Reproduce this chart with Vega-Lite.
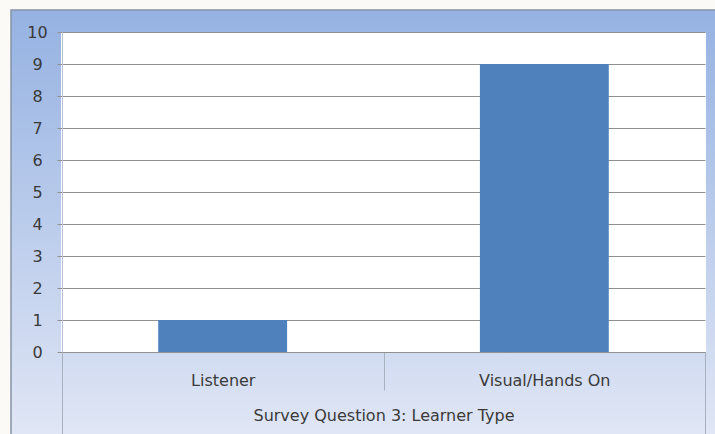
{
  "$schema": "https://vega.github.io/schema/vega-lite/v6.json",
  "width": 705,
  "height": 425,
  "autosize": {"type": "none"},
  "padding": {"left": 11, "top": 10, "right": 0, "bottom": 0},
  "background": "#fbfaf7",
  "config": {
    "font": "DejaVu Sans",
    "view": {
      "fill": {
        "gradient": "linear",
        "x1": 0, "y1": 0, "x2": 0, "y2": 1,
        "stops": [
          {"offset": 0, "color": "#95b2e2"},
          {"offset": 1, "color": "#e0e6f5"}
        ]
      },
      "stroke": "#8893a6",
      "strokeWidth": 1.5
    }
  },
  "data": {
    "values": [
      {"learner": "Listener", "count": 1},
      {"learner": "Visual/Hands On", "count": 9}
    ]
  },
  "encoding": {
    "x": {
      "field": "learner",
      "type": "nominal",
      "sort": null,
      "scale": {"range": [51, 694], "paddingInner": 0, "paddingOuter": 0}
    },
    "y": {
      "field": "count",
      "type": "quantitative",
      "scale": {"domain": [0, 10], "range": [342, 22], "nice": false}
    }
  },
  "layer": [
    {
      "mark": {"type": "bar", "color": "#4f81bd", "width": {"band": 0.4}},
      "encoding": {
        "x": {
          "field": "learner",
          "type": "nominal",
          "sort": null,
          "axis": {
            "orient": "top",
            "grid": true,
            "gridColor": "#ffffff",
            "gridOpacity": 1,
            "gridWidth": 323,
            "ticks": false,
            "domain": false,
            "labels": false,
            "title": null
          }
        },
        "y": {
          "field": "count",
          "type": "quantitative",
          "axis": {
            "title": null,
            "offset": -51,
            "values": [0, 1, 2, 3, 4, 5, 6, 7, 8, 9, 10],
            "labelOverlap": false,
            "tickSize": 5,
            "tickColor": "#909090",
            "gridColor": "#909090",
            "gridOpacity": 1,
            "domainColor": "#b9c2d2",
            "labelAlign": "center",
            "labelBaseline": "middle",
            "labelPadding": 20,
            "labelFontSize": 16,
            "labelColor": "#3a3a3a"
          }
        }
      }
    },
    {
      "mark": {"type": "bar", "color": "#4f81bd", "width": {"band": 0.4}},
      "encoding": {
        "x": {
          "field": "learner",
          "type": "nominal",
          "sort": null,
          "axis": {
            "orient": "bottom",
            "offset": -83,
            "grid": false,
            "tickBand": "extent",
            "tickSize": {"condition": {"test": "datum.index === 0", "value": 38}, "value": 82},
            "tickColor": "#a9b0c0",
            "domainColor": "#909090",
            "labelAngle": 0,
            "labelPadding": {"condition": {"test": "datum.index === 0", "value": -18}, "value": -62},
            "labelFontSize": 16,
            "labelColor": "#3a3a3a",
            "title": "Survey Question 3: Learner Type",
            "titleFontSize": 16,
            "titleFontWeight": "normal",
            "titleColor": "#3a3a3a",
            "titleY": 55,
            "titleBaseline": "top"
          }
        },
        "y": {"field": "count", "type": "quantitative"}
      }
    }
  ],
  "resolve": {"axis": {"x": "independent"}}
}
